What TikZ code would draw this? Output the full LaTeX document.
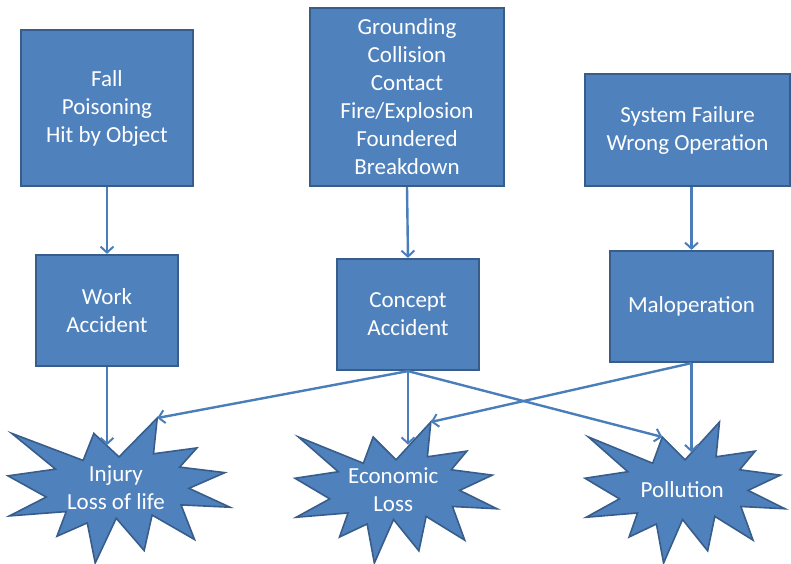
\documentclass[tikz,border=0pt]{standalone}
\usepackage{fontspec}
\setmainfont{Carlito}
\usepackage{xcolor}
\definecolor{boxfill}{HTML}{4F81BD}
\definecolor{boxline}{HTML}{385D8A}
\definecolor{arrowline}{HTML}{4A7EBB}
\usetikzlibrary{
    arrows.meta,
    calc,
    positioning,
}
\tikzset{
    framedbox/.style={
            draw=boxline,
            fill=boxfill,
            line width=2.2pt,
            text=white,
            align=center,
            font=\fontsize{23}{28}\selectfont,
        }
}
\tikzset{
    link/.style={
            draw=arrowline,
            line width=2.4pt,
            -{Straight Barb[length=6pt,width=13pt,line width=2pt]},
        }
}
\tikzset{
    seal/.pic={
            \filldraw[fill=boxfill, draw=boxline, line width=1.6pt, line join=miter]
                (108,58) -- (145.22,0) -- (141.55,53.25) -- (183.80,44.57)
                -- (167.02,73.15) -- (210.97,81.37) -- (176.07,104.75)
                -- (216,132.90) -- (168.37,129.42) -- (181.45,180.95)
                -- (140.20,144.57) -- (132.47,197.37) -- (105.32,149.35)
                -- (84.85,216) -- (77.15,156.27) -- (47.62,176.17)
                -- (56.67,139.37) -- (1.35,145.87) -- (37.22,117.75)
                -- (0,86.15) -- (46.27,76.17) -- (3.70,22.95)
                -- (73.12,63.20) -- (83.52,22.95) -- cycle;
            \coordinate (-peak) at (145.22,0);
            \coordinate (-notch) at (108,58);
            \coordinate (-lpeak) at (83.52,22.95);
            \node[text=white, align=center, font=\fontsize{23}{28}\selectfont]
                (-text) at (105,104) {#1};
        }
}

\begin{document}
\begin{tikzpicture}[x=1pt, y=-1pt]
    \useasboundingbox (0,0) rectangle (791,563);

    % causes
    \node[
        framedbox,
        minimum width=172,
        minimum height=156,
    ] (fall) at (107,108) {Fall\\Poisoning\\Hit by Object};
    \node[
        framedbox,
        minimum width=194,
        minimum height=178,
    ] (ground) at (407,97) {Grounding\\Collision\\Contact\\Fire/Explosion\\Foundered\\Breakdown};
    \node[
        framedbox,
        minimum width=205,
        minimum height=112,
    ] (system) at (687.5,130) {System Failure\\Wrong Operation};

    % accidents
    \node[
        framedbox,
        minimum width=142,
        minimum height=111,
    ] (work) at (107,310.5) {Work\\Accident};
    \node[
        framedbox,
        minimum width=142,
        minimum height=111,
    ] (concept) at (408,314.5) {Concept\\Accident};
    \node[
        framedbox,
        minimum width=163,
        minimum height=111,
    ] (malop) at (691.5,306.5) {Maloperation};

    % consequences
    \begin{scope}[shift={(8,418)}, x=1.0278pt, y=-0.6713pt]
        \pic (inj) {seal={Injury\\Loss of life}};
    \end{scope}
    \begin{scope}[shift={(295,422)}, x=0.9352pt, y=-0.6528pt]
        \pic (eco) {seal={Economic\\Loss}};
    \end{scope}
    \begin{scope}[shift={(585,422)}, x=0.9259pt, y=-0.6528pt]
        \pic (pol) {seal={Pollution}};
    \end{scope}

    % causes -> accidents
    \draw[link] (fall) -- (work);
    \draw[link] (ground.south) -- (concept.north);
    \draw[link] (system.south -| malop.north) -- (malop.north);

    % accidents -> consequences
    \draw[link] (work.south) -- (work.south |- {$(inj-lpeak)!0.5!(inj-notch)$});
    \draw[link] (concept.south) -- (inj-peak);
    \draw[link] (concept.south) -- (concept.south |- {$(eco-notch)!0.4!(eco-peak)$});
    \draw[link] (concept.south) -- (pol-lpeak);
    \draw[link] (malop.south) -- (eco-peak);
    \draw[link] (malop.south) -- (malop.south |- {$(pol-notch)!0.2!(pol-peak)$});
\end{tikzpicture}
\end{document}
